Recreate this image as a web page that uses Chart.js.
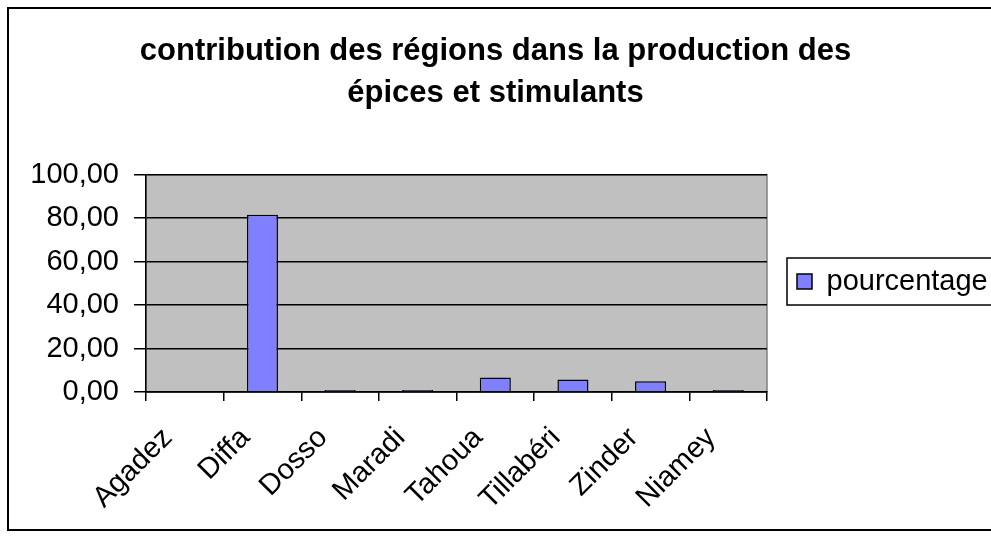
<!DOCTYPE html>
<html>
<head>
<meta charset="utf-8">
<script src="https://cdn.jsdelivr.net/npm/chart.js@4.4.1/dist/chart.umd.min.js"></script>
<style>
  html, body { margin: 0; padding: 0; background: #fff; overflow: hidden; }
  #wrap { width: 991px; height: 536px; position: relative; }
</style>
</head>
<body>
<div id="wrap"><canvas id="chart"></canvas></div>
<script>
// ==============================
// DATA
// ==============================
const regions = ["Agadez", "Diffa", "Dosso", "Maradi", "Tahoua", "Tillabéri", "Zinder", "Niamey"];
const pourcentage = [0, 81.6, 0.9, 0.9, 6.7, 5.7, 4.9, 0.9];
const titleLines = ["contribution des régions dans la production des", "épices et stimulants"];
const yTicks = [0, 20, 40, 60, 80, 100];

const FONT = "'Liberation Sans', Arial, sans-serif";

// ==============================
// PLUGINS (cadre, fond gris, légende encadrée)
// ==============================
const frame = {
  id: "frame",
  beforeInit(chart) {
    // largeur fixe de la légende -> bord droit du graphique à 767
    const lg = chart.legend;
    const fit = lg.fit;
    lg.fit = function () {
      fit.call(this);
      this.width = 224;
    };
  },
  afterLayout(chart) {
    const lg = chart.legend;
    const h = lg.bottom - lg.top;
    lg.top = 237;
    lg.bottom = 237 + h;
  },
  beforeDraw(chart) {
    const c = chart.ctx;
    const a = chart.chartArea;
    c.save();
    c.fillStyle = "#fff";
    c.fillRect(0, 0, chart.width, chart.height);
    c.strokeStyle = "#000";
    c.lineWidth = 2;
    c.strokeRect(8, 8, 1000, 522);
    c.fillStyle = "#c0c0c0";
    c.fillRect(a.left, a.top, a.right - a.left, a.bottom - a.top);
    c.strokeStyle = "#808080";
    c.lineWidth = 1.5;
    c.strokeRect(a.left, a.top, a.right - a.left, a.bottom - a.top);
    c.restore();
  },
  afterDraw(chart) {
    const lg = chart.legend;
    if (!lg || !lg.legendHitBoxes || !lg.legendHitBoxes.length) return;
    const hb = lg.legendHitBoxes[0];
    const cy = hb.top + hb.height / 2;
    const c = chart.ctx;
    c.save();
    c.strokeStyle = "#000";
    c.lineWidth = 1.5;
    c.strokeRect(hb.left - 10, cy - 23.5, hb.width + 30, 47);
    c.restore();
  },
};

// ==============================
// CHART
// ==============================
const ctx = document.getElementById("chart").getContext("2d");
const chart = new Chart(ctx, {
  type: "bar",
  data: {
    labels: regions,
    datasets: [
      {
        label: "pourcentage",
        data: pourcentage,
        backgroundColor: "#8080ff",
        borderColor: "#000",
        borderWidth: 1.5,
        barPercentage: 0.4,
        categoryPercentage: 1,
      },
    ],
  },
  options: {
    responsive: true,
    maintainAspectRatio: false,
    animation: false,
    layout: { padding: 0 },
    scales: {
      x: {
        afterFit(scale) {
          scale.height = 144;
          scale.paddingLeft = 0;
          scale.paddingRight = 0;
        },
        grid: {
          offset: true,
          drawOnChartArea: false,
          drawTicks: true,
          tickLength: 9,
          color: "#000",
          lineWidth: 1.5,
        },
        border: { color: "#000", width: 1.5 },
        ticks: {
          color: "#000",
          font: { family: FONT, size: 29 },
          minRotation: 45,
          maxRotation: 45,
          padding: 20,
          labelOffset: -17,
          autoSkip: false,
        },
      },
      y: {
        min: 0,
        max: 100,
        afterBuildTicks(scale) {
          scale.ticks = yTicks.map((v) => ({ value: v }));
        },
        afterFit(scale) {
          scale.width = 146;
        },
        grid: {
          color: "#000",
          lineWidth: 1.5,
          tickLength: 12,
        },
        border: { color: "#000", width: 1.5 },
        ticks: {
          color: "#000",
          font: { family: FONT, size: 29 },
          padding: 15,
          callback: (v) => Number(v).toFixed(2).replace(".", ","),
        },
      },
    },
    plugins: {
      title: {
        display: true,
        text: titleLines,
        color: "#000",
        font: { family: FONT, size: 31, weight: "bold", lineHeight: 1.35 },
        padding: { top: 31, bottom: 60 },
      },
      legend: {
        position: "right",
        align: "start",
        labels: {
          color: "#000",
          font: { family: FONT, size: 29 },
          boxWidth: 15,
          boxHeight: 15,
          padding: 30,
        },
      },
      tooltip: { enabled: false },
    },
  },
  plugins: [frame],
});
</script>
</body>
</html>
